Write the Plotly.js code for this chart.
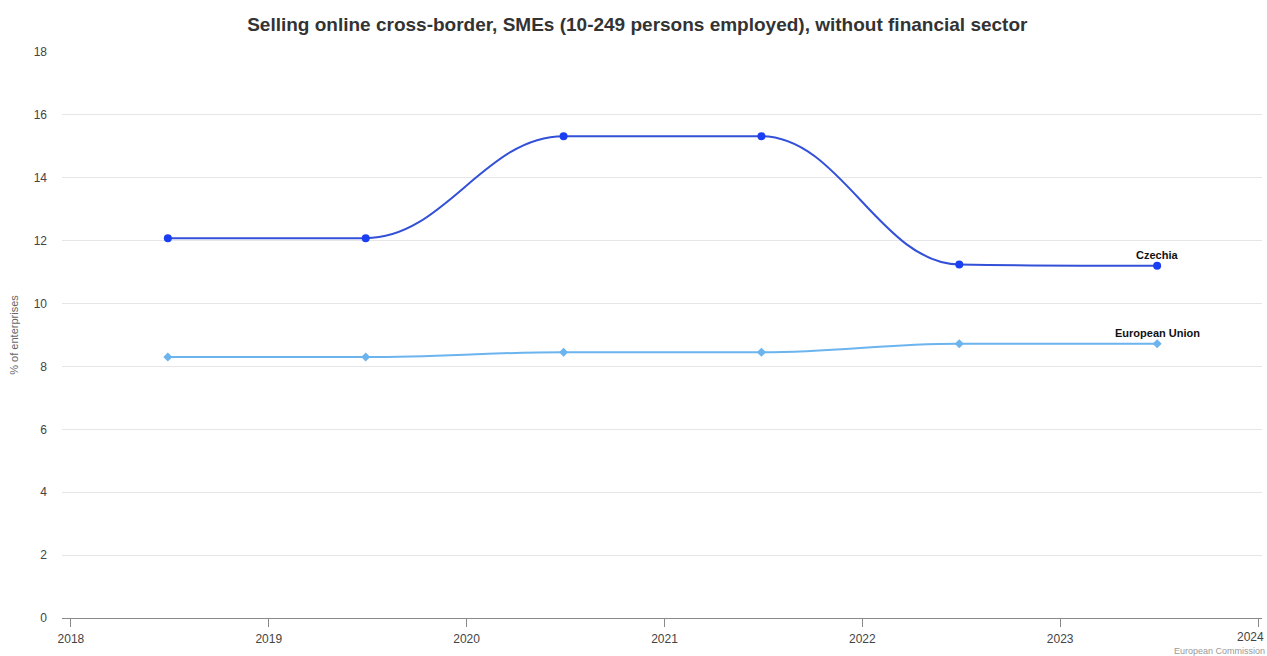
<!DOCTYPE html>
<html>
<head>
<meta charset="utf-8">
<script src="https://cdn.plot.ly/plotly-3.0.1.min.js"></script>
<style>html,body{margin:0;padding:0;background:#fff;}#chart{width:1267px;height:656px;}</style>
</head>
<body>
<div id="chart"></div>
<script>
var years = [2018.49, 2019.49, 2020.49, 2021.49, 2022.49, 2023.49];
var czechia = [12.08, 12.08, 15.32, 15.32, 11.24, 11.2];
var eu = [8.3, 8.3, 8.45, 8.45, 8.72, 8.72];
var seriesNames = ["Czechia", "European Union"];
var xTicks = [2018, 2019, 2020, 2021, 2022, 2023, 2024];
var yTicks = [0, 2, 4, 6, 8, 10, 12, 14, 16, 18];

// Spline path (Highcharts-style control points) built from the data, in data coordinates
function splinePath(xs, ys) {
  var s = 1.5, d = 2.5, n = xs.length, L = [], R = [];
  for (var i = 0; i < n; i++) {
    var x = xs[i], y = ys[i];
    if (i === 0 || i === n - 1) { L.push([x, y]); R.push([x, y]); continue; }
    var px = xs[i - 1], py = ys[i - 1], nx = xs[i + 1], ny = ys[i + 1];
    var lx = (s * x + px) / d, ly = (s * y + py) / d;
    var rx = (s * x + nx) / d, ry = (s * y + ny) / d;
    if (rx !== lx) {
      var c = ((ry - ly) * (rx - x)) / (rx - lx) + y - ry;
      ly += c; ry += c;
    }
    if (ly > py && ly > y) { ly = Math.max(py, y); ry = 2 * y - ly; }
    else if (ly < py && ly < y) { ly = Math.min(py, y); ry = 2 * y - ly; }
    if (ry > ny && ry > y) { ry = Math.max(ny, y); ly = 2 * y - ry; }
    else if (ry < ny && ry < y) { ry = Math.min(ny, y); ly = 2 * y - ry; }
    L.push([lx, ly]); R.push([rx, ry]);
  }
  var p = "M " + xs[0] + "," + ys[0];
  for (var j = 1; j < n; j++) {
    p += " C " + R[j - 1][0] + "," + R[j - 1][1] + " " + L[j][0] + "," + L[j][1] + " " + xs[j] + "," + ys[j];
  }
  return p;
}

var czColor = "#3350d8", czMarker = "#1a3ff2", euColor = "#6cb4ee";

var traces = [
  {
    x: years, y: eu, name: seriesNames[1], mode: "markers",
    marker: {color: euColor, size: 7, symbol: "diamond"},
    hoverinfo: "x+y+name"
  },
  {
    x: years, y: czechia, name: seriesNames[0], mode: "markers",
    marker: {color: czMarker, size: 8, symbol: "circle"},
    hoverinfo: "x+y+name"
  }
];

var last = years.length - 1;
var lastTick = xTicks.length - 1;
var layout = {
  width: 1267, height: 656,
  margin: {l: 62, r: 5, t: 52, b: 38},
  paper_bgcolor: "#fff", plot_bgcolor: "#fff",
  showlegend: false,
  font: {family: "Liberation Sans, Arial, sans-serif", color: "#444"},
  title: {
    text: "<b>Selling online cross-border, SMEs (10-249 persons employed), without financial sector</b>",
    x: 0.503, xanchor: "center", y: 0.963, yanchor: "middle",
    font: {size: 19, color: "#333", family: "Liberation Sans, Arial, sans-serif"}
  },
  xaxis: {
    range: [2017.955, 2024.02],
    tickvals: xTicks,
    ticktext: xTicks.map(function (t, i) { return i === lastTick ? "" : String(t); }),
    showgrid: false, zeroline: false,
    showline: true, linecolor: "#8a8a8a", linewidth: 1,
    ticks: "outside", ticklen: 8, tickcolor: "#8a8a8a",
    ticklabelstandoff: 2,
    tickfont: {size: 12, color: "#444"}
  },
  yaxis: {
    range: [0, 18],
    tickvals: yTicks,
    showgrid: true, gridcolor: "#e6e6e6", gridwidth: 1,
    zeroline: false, showline: false,
    tickfont: {size: 12, color: "#444"},
    ticklabelstandoff: 14,
    title: {text: "% of enterprises", font: {size: 11, color: "#666"}, standoff: 12}
  },
  shapes: [
    {type: "path", xref: "x", yref: "y", layer: "between", path: splinePath(years, eu),
     line: {color: euColor, width: 2}},
    {type: "path", xref: "x", yref: "y", layer: "between", path: splinePath(years, czechia),
     line: {color: czColor, width: 2}}
  ],
  annotations: [
    {x: years[last], y: czechia[last], xref: "x", yref: "y", text: "<b>" + seriesNames[0] + "</b>",
     showarrow: false, yshift: 11, font: {size: 11, color: "#111"}},
    {x: years[last], y: eu[last], xref: "x", yref: "y", text: "<b>" + seriesNames[1] + "</b>",
     showarrow: false, yshift: 11, font: {size: 11, color: "#111"}},
    {x: 1, y: 0, xref: "paper", yref: "paper", text: String(xTicks[lastTick]),
     showarrow: false, xanchor: "right", yanchor: "top", yshift: -10, xshift: 4,
     font: {size: 12, color: "#444"}},
    {x: 1, y: 0, xref: "paper", yref: "paper", text: "European Commission",
     showarrow: false, xanchor: "right", yanchor: "top", yshift: -26, xshift: 5,
     font: {size: 9, color: "#999"}}
  ]
};

Plotly.newPlot("chart", traces, layout, {displayModeBar: false, staticPlot: true});
</script>
</body>
</html>
